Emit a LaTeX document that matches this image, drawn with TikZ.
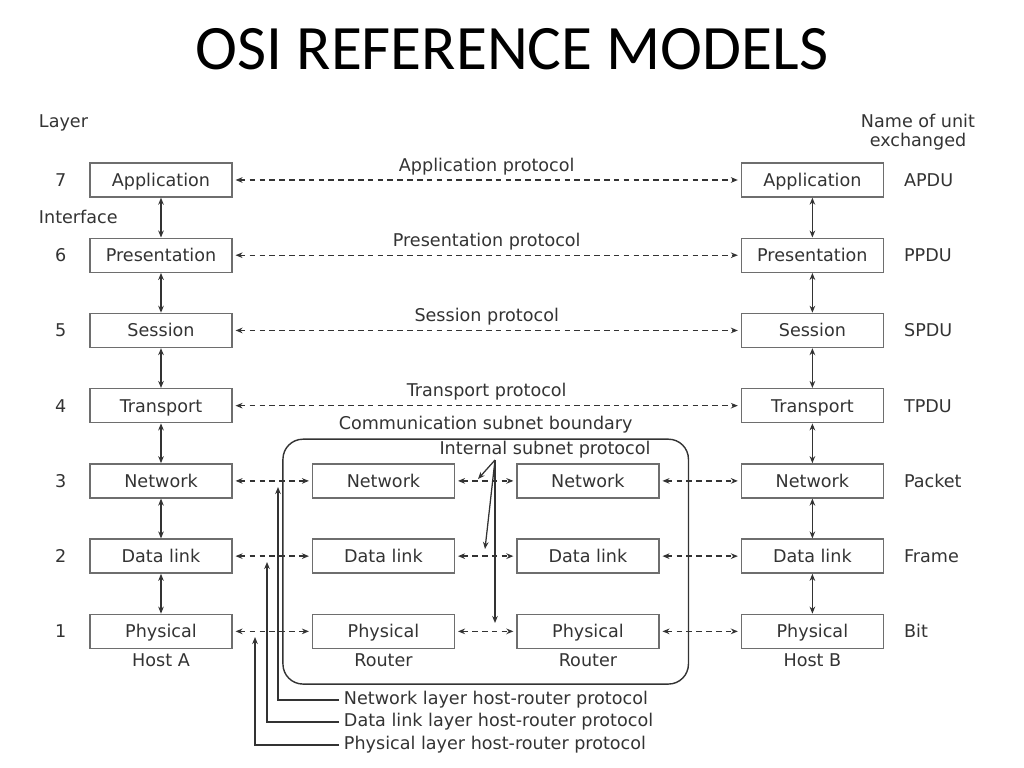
\documentclass[tikz,border=0pt]{standalone}
\usepackage{fontspec}
\setmainfont{DejaVu Sans}
\newfontfamily\titlefont{Carlito}
\usetikzlibrary{matrix,positioning,fit,arrows.meta}

\definecolor{ink}{HTML}{333333}
\definecolor{edge}{HTML}{6E6E6E}

\tikzset{
  layer/.style={draw=edge, line width=1pt, minimum width=3.55cm, minimum height=0.85cm,
    text height=9pt, text depth=0pt},
  link/.style={draw=ink, line width=0.9pt,
    {Stealth[length=5pt,width=4pt]}-{Stealth[length=5pt,width=4pt]}},
  proto/.style={link, dash pattern=on 4pt off 3pt, shorten <=2pt, shorten >=2pt},
  hint/.style={draw=ink, line width=0.9pt, -{Stealth[length=5pt,width=4pt]}},
}

\begin{document}
\begin{tikzpicture}[x=0.025cm, y=-0.025cm, font=\fontsize{12.5}{15}\selectfont, text=ink]
  \useasboundingbox (0,0) rectangle (1024,768);
  \node (title) [text=black] at (512,49) {\titlefont\fontsize{45}{50}\selectfont OSI REFERENCE MODELS};

  \matrix (osi) [matrix of nodes, row sep=0.995cm, column sep=0pt,
    matrix anchor=osi-1-2.center,
    column 1/.style={nodes={inner sep=0pt}},
    column 2/.style={nodes=layer}, column 3/.style={nodes=layer},
    column 4/.style={nodes=layer}, column 5/.style={nodes=layer},
    column 6/.style={anchor=base west, nodes={inner sep=0pt}}] at (161,180)
  {
    7 &[0.575cm] Application &[1.975cm] &[1.525cm] &[2.025cm] Application &[0.5cm] APDU \\
    6 & Presentation & & & Presentation & PPDU \\
    5 & Session & & & Session & SPDU \\
    4 & Transport & & & Transport & TPDU \\
    3 & Network & Network & Network & Network & Packet \\
    2 & Data link & Data link & Data link & Data link & Frame \\
    1 & Physical & Physical & Physical & Physical & Bit \\
  };

  % headings
  \node (layer) [anchor=west] at (34,123) {Layer};
  \node (iface) [anchor=west] at (34,217) {Interface};
  \node (unit) [align=center] at (918,132) {Name of unit\\[-1pt]exchanged};

  \node (hostA) [below=0pt of osi-7-2] {Host A};
  \node (rtA) [below=0pt of osi-7-3] {Router};
  \node (rtB) [below=0pt of osi-7-4] {Router};
  \node (hostB) [below=0pt of osi-7-5] {Host B};

  % subnet
  \node (subnet) [draw=ink, line width=1pt, rounded corners=0.5cm, inner xsep=0.72cm,
    inner ysep=0.45cm, yshift=0.15cm, fit=(osi-5-3)(osi-7-4)(rtA)(rtB)] {};
  \node (sublabel) [above=0pt of subnet] {Communication subnet boundary};

  % peer protocols
  \draw[proto] (osi-1-2) -- node (approto) [above] {Application protocol} (osi-1-5);
  \draw[proto] (osi-2-2) -- node (prproto) [above] {Presentation protocol} (osi-2-5);
  \draw[proto] (osi-3-2) -- node (seproto) [above] {Session protocol} (osi-3-5);
  \draw[proto] (osi-4-2) -- node (trproto) [above] {Transport protocol} (osi-4-5);
  \draw[proto] (osi-5-2) -- (osi-5-3); \draw[proto] (osi-5-3) -- (osi-5-4); \draw[proto] (osi-5-4) -- (osi-5-5);
  \draw[proto] (osi-6-2) -- (osi-6-3); \draw[proto] (osi-6-3) -- (osi-6-4); \draw[proto] (osi-6-4) -- (osi-6-5);
  \draw[proto] (osi-7-2) -- (osi-7-3); \draw[proto] (osi-7-3) -- (osi-7-4); \draw[proto] (osi-7-4) -- (osi-7-5);

  % interfaces
  \draw[link] (osi-1-2) -- (osi-2-2); \draw[link] (osi-1-5) -- (osi-2-5);
  \draw[link] (osi-2-2) -- (osi-3-2); \draw[link] (osi-2-5) -- (osi-3-5);
  \draw[link] (osi-3-2) -- (osi-4-2); \draw[link] (osi-3-5) -- (osi-4-5);
  \draw[link] (osi-4-2) -- (osi-5-2); \draw[link] (osi-4-5) -- (osi-5-5);
  \draw[link] (osi-5-2) -- (osi-6-2); \draw[link] (osi-5-5) -- (osi-6-5);
  \draw[link] (osi-6-2) -- (osi-7-2); \draw[link] (osi-6-5) -- (osi-7-5);

  % internal subnet protocol
  \node (isp) at (545,450) {Internal subnet protocol};
  \coordinate (ispfoot) at (495,460);
  \coordinate (netpt) at (478,479);
  \coordinate (dlpt) at (485,549);
  \coordinate (phpt) at (495,623);
  \draw[hint] (ispfoot) -- (netpt);
  \draw[hint] (ispfoot) -- (dlpt);
  \draw[hint] (ispfoot) -- (phpt);

  % host-router protocols
  \node (netproto) [anchor=west] at (339,700) {Network layer host-router protocol};
  \node (dlproto) [anchor=west] at (339,722) {Data link layer host-router protocol};
  \node (phproto) [anchor=west] at (339,745) {Physical layer host-router protocol};
  \coordinate (netfoot) at (278,487);
  \coordinate (dlfoot) at (267,562);
  \coordinate (phfoot) at (255,637);
  \draw[hint] (netproto.west) -| (netfoot);
  \draw[hint] (dlproto.west) -| (dlfoot);
  \draw[hint] (phproto.west) -| (phfoot);
\end{tikzpicture}
\end{document}
